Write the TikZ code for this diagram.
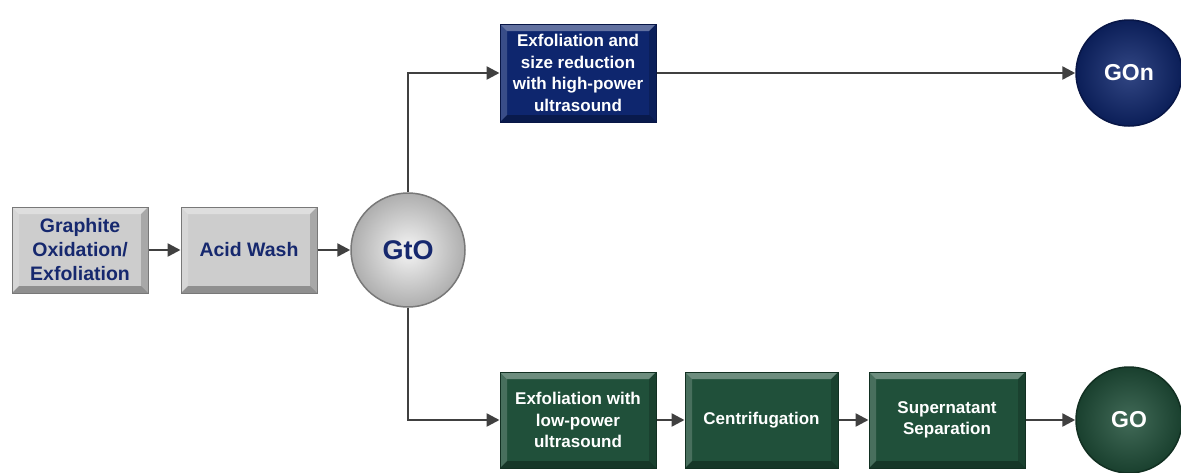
\documentclass[tikz,border=0pt]{standalone}
\usepackage{fontspec}
\setmainfont{Liberation Sans}
\usetikzlibrary{arrows.meta}
\definecolor{grayfill}{RGB}{205,205,205}
\definecolor{grayedge}{RGB}{120,120,120}
\definecolor{navy}{RGB}{14,38,110}
\definecolor{navyedge}{RGB}{8,22,70}
\definecolor{dgreen}{RGB}{32,80,58}
\definecolor{dgreenedge}{RGB}{18,48,34}
\definecolor{txtnavy}{RGB}{22,40,110}
\definecolor{arrowgray}{RGB}{64,64,64}
\tikzset{
  bevel/.style={path picture={
    \fill[white,opacity=0.35] (path picture bounding box.north west) -- (path picture bounding box.north east) -- ([xshift=-7pt,yshift=-7pt]path picture bounding box.north east) -- ([xshift=7pt,yshift=-7pt]path picture bounding box.north west) -- cycle;
    \fill[white,opacity=0.18] (path picture bounding box.north west) -- ([xshift=7pt,yshift=-7pt]path picture bounding box.north west) -- ([xshift=7pt,yshift=7pt]path picture bounding box.south west) -- (path picture bounding box.south west) -- cycle;
    \fill[black,opacity=0.3] (path picture bounding box.south west) -- (path picture bounding box.south east) -- ([xshift=-7pt,yshift=7pt]path picture bounding box.south east) -- ([xshift=7pt,yshift=7pt]path picture bounding box.south west) -- cycle;
    \fill[black,opacity=0.18] (path picture bounding box.north east) -- ([xshift=-7pt,yshift=-7pt]path picture bounding box.north east) -- ([xshift=-7pt,yshift=7pt]path picture bounding box.south east) -- (path picture bounding box.south east) -- cycle;
  }},
  graybox/.style={draw=grayedge, line width=1pt, fill=grayfill, bevel, align=center, font=\bfseries\fontsize{19.5}{24}\selectfont, text=txtnavy, inner sep=0pt},
  navybox/.style={draw=navyedge, line width=1pt, fill=navy, bevel, align=center, font=\bfseries\fontsize{17}{21.5}\selectfont, text=white, inner sep=0pt},
  greenbox/.style={draw=dgreenedge, line width=1pt, fill=dgreen, bevel, align=center, font=\bfseries\fontsize{17}{21.5}\selectfont, text=white, inner sep=0pt},
  graycirc/.style={circle, draw=grayedge, line width=1.5pt, inner color=white!92!gray, outer color=grayfill!85!black, font=\bfseries\fontsize{27}{30}\selectfont, text=txtnavy, inner sep=0pt},
  navycirc/.style={circle, draw=navyedge, line width=1.5pt, inner color=navy!85!white, outer color=navy!80!black, font=\bfseries\fontsize{23}{26}\selectfont, text=white, inner sep=0pt},
  greencirc/.style={circle, draw=dgreenedge, line width=1.5pt, inner color=dgreen!85!white, outer color=dgreen!80!black, font=\bfseries\fontsize{23}{26}\selectfont, text=white, inner sep=0pt},
  conn/.style={draw=arrowgray, line width=2.5pt, -{Triangle[length=13pt,width=13pt]}}
}
\begin{document}
\begin{tikzpicture}[x=1pt,y=-1pt]
\useasboundingbox (0,0) rectangle (1181,472);
\node[graybox, minimum width=136pt, minimum height=86pt] (graph) at (80,250) {Graphite\\Oxidation/\\Exfoliation};
\node[graybox, minimum width=136pt, minimum height=86pt] (acid) at (249,250) {Acid Wash};
\node[graycirc, minimum size=114pt] (gto) at (408,250) {GtO};
\node[navybox, minimum width=156pt, minimum height=98pt] (high) at (578,73) {Exfoliation and\\size reduction\\with high-power\\ultrasound};
\node[navycirc, minimum size=106pt] (gon) at (1129,73) {GOn};
\node[greenbox, minimum width=156pt, minimum height=96pt] (low) at (578,420) {Exfoliation with\\low-power\\ultrasound};
\node[greenbox, minimum width=153pt, minimum height=96pt] (cent) at (761.5,420) {Centrifugation};
\node[greenbox, minimum width=156pt, minimum height=96pt] (sup) at (947,420) {Supernatant\\Separation};
\node[greencirc, minimum size=106pt] (go) at (1129,420) {GO};
\draw[conn] (graph) -- (acid);
\draw[conn] (acid) -- (gto);
\draw[conn] (gto.north) |- (high.west);
\draw[conn] (gto.south) |- (low.west);
\draw[conn] (high) -- (gon);
\draw[conn] (low) -- (cent);
\draw[conn] (cent) -- (sup);
\draw[conn] (sup) -- (go);
\end{tikzpicture}
\end{document}
